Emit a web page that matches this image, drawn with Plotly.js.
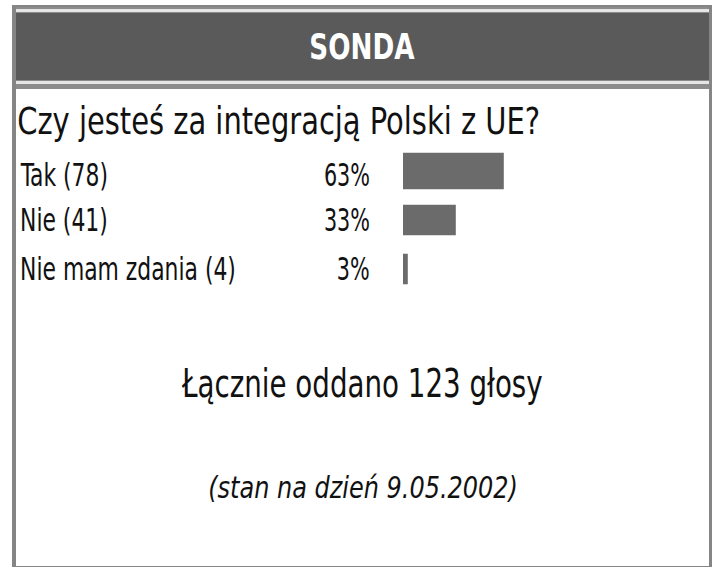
<!DOCTYPE html>
<html>
<head>
<meta charset="utf-8">
<script src="https://cdn.plot.ly/plotly-3.0.1.min.js"></script>
<style>html,body{margin:0;padding:0;background:#fff;}#chart{width:718px;height:569px;}</style>
</head>
<body>
<div id="chart"></div>
<script>
// ---- data ----
const headerText = "SONDA";
const questionText = "Czy jesteś za integracją Polski z UE?";
const answers = ["Tak", "Nie", "Nie mam zdania"];
const votes = [78, 41, 4];
const percents = [63, 33, 3];
const totalText = "Łącznie oddano 123 głosy";
const dateText = "(stan na dzień 9.05.2002)";

// ---- helpers (pixel -> paper) ----
const W = 718, H = 569;
const px = x => x / W;
const py = y => 1 - y / H;
const FONT = "DejaVu Sans Condensed, DejaVu Sans, sans-serif";

const rowIdx = answers.map((_, i) => i);

const trace = {
  type: "bar",
  orientation: "h",
  y: rowIdx,
  x: percents,
  width: [0.74, 0.62, 0.62],
  marker: { color: "#6b6b6b", line: { width: 0 } },
  hoverinfo: "skip"
};

const annotations = [];
const squeeze = [];   // horizontal compression of each text (reference font is very narrow)
answers.forEach((a, i) => {
  annotations.push({
    xref: "paper", yref: "y", x: px(18), y: i, xanchor: "left", yanchor: "middle",
    text: a + " (" + votes[i] + ")", showarrow: false,
    yshift: i === 0 ? -4 : 0,
    font: { family: FONT, size: 32, color: "#111" }
  });
  squeeze.push(0.76);
  annotations.push({
    xref: "paper", yref: "y", x: px(372), y: i, xanchor: "right", yanchor: "middle",
    text: percents[i] + "%", showarrow: false,
    yshift: i === 0 ? -4 : 0,
    font: { family: FONT, size: 32, color: "#111" }
  });
  squeeze.push(0.72);
});
annotations.push({
  xref: "paper", yref: "paper", x: px(362), y: py(47), xanchor: "center", yanchor: "middle",
  text: "<b>" + headerText + "</b>", showarrow: false,
  font: { family: FONT, size: 36, color: "#ffffff" }
});
squeeze.push(0.81);
annotations.push({
  xref: "paper", yref: "paper", x: px(15), y: py(121), xanchor: "left", yanchor: "middle",
  text: questionText, showarrow: false,
  font: { family: FONT, size: 37, color: "#111" }
});
squeeze.push(0.87);
annotations.push({
  xref: "paper", yref: "paper", x: px(362), y: py(383), xanchor: "center", yanchor: "middle",
  text: totalText, showarrow: false,
  font: { family: FONT, size: 39, color: "#111" }
});
squeeze.push(0.79);
annotations.push({
  xref: "paper", yref: "paper", x: px(363), y: py(487), xanchor: "center", yanchor: "middle",
  text: "<i>" + dateText + "</i>", showarrow: false,
  font: { family: FONT, size: 31, color: "#111" }
});
squeeze.push(0.86);

const rect = (x0, y0, x1, y1, fill) => ({
  type: "rect", xref: "paper", yref: "paper", layer: "below",
  x0: px(x0), x1: px(x1), y0: py(y1), y1: py(y0),
  fillcolor: fill, line: { width: 0 }
});

const shapes = [
  // outer frame
  rect(12, 5, 712, 567, "#858585"),
  rect(16, 7, 709, 566, "#ffffff"),
  // header band
  rect(16, 7, 709, 89, "#8c8c8c"),
  rect(16, 9, 709, 12, "#e6e6e6"),
  rect(16, 13, 709, 80, "#5a5a5a"),
  rect(16, 81, 709, 84, "#e6e6e6"),
  rect(16, 89, 709, 566, "#ffffff")
];

const layout = {
  width: W, height: H,
  margin: { l: 0, r: 0, t: 0, b: 0 },
  paper_bgcolor: "#ffffff",
  plot_bgcolor: "rgba(0,0,0,0)",
  showlegend: false,
  xaxis: { domain: [px(403), 1], range: [0, (W - 403) / 1.6], visible: false, fixedrange: true },
  yaxis: { domain: [py(293.5), py(146.5)], range: [2.5, -0.5], visible: false, fixedrange: true },
  shapes: shapes,
  annotations: annotations
};

Plotly.newPlot("chart", [trace], layout, { displayModeBar: false, staticPlot: true }).then(gd => {
  gd.querySelectorAll("g.annotation").forEach(g => {
    const i = +g.getAttribute("data-index");
    const t = g.querySelector("text.annotation-text");
    if (!t || isNaN(i)) return;
    const anchor = annotations[i].xanchor;
    t.style.transformBox = "fill-box";
    t.style.transformOrigin = anchor === "left" ? "left center" : anchor === "right" ? "right center" : "center center";
    t.style.transform = "scaleX(" + squeeze[i] + ")";
  });
});
</script>
</body>
</html>
